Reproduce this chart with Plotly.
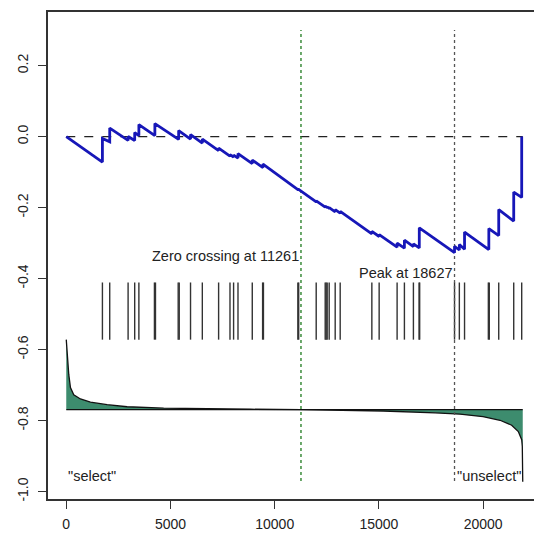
import plotly.graph_objects as go

N_GENES = 21900
ZERO_CROSS = 11261
PEAK = 18627

# running enrichment score: value just before and just after each hit
hit_ranks = [1735, 2085, 2967, 3283, 3484, 4251, 5392, 5962, 6528, 7309, 7855, 8028,
             8239, 8924, 9437, 11129, 11991, 12423, 12518, 12614, 12902, 13142, 14661,
             15011, 15873, 16223, 16655, 16937, 18627, 18859, 19108, 20273, 20748,
             21467, 21850]
es_before = [-0.0718, -0.0150, -0.0110, -0.0113, 0.0028, 0.0028, -0.0080, -0.0070,
             -0.0183, -0.0394, -0.0549, -0.0577, -0.0606, -0.0760, -0.0873, -0.1500,
             -0.1837, -0.1989, -0.1999, -0.2020, -0.2119, -0.2159, -0.2739, -0.2815,
             -0.3117, -0.3145, -0.3099, -0.3137, -0.3270, -0.3195, -0.3172, -0.3183,
             -0.2789, -0.2380, -0.1715]
es_after = [-0.0056, 0.0239, 0.0000, 0.0113, 0.0338, 0.0366, 0.0169, 0.0056,
            -0.0070, -0.0324, -0.0507, -0.0521, -0.0479, -0.0662, -0.0775, -0.1480,
            -0.1810, -0.1960, -0.1980, -0.2000, -0.2060, -0.2110, -0.2670, -0.2760,
            -0.3000, -0.2920, -0.3020, -0.2570, -0.3090, -0.3042, -0.2690, -0.2592,
            -0.2056, -0.1563, 0.0000]

# barcode of gene-set members (thick bars = several neighbouring hits)
barcode_ranks = [1735, 2085, 2967, 3283, 3484, 4230, 4280, 5370, 5420, 5962, 6528,
                 7309, 7855, 8028, 8239, 8924, 9420, 9460, 11110, 11150, 11991, 12423,
                 12470, 12518, 12614, 12902, 13142, 14661, 15011, 15873, 16223, 16655,
                 16925, 16955, 18627, 18859, 19108, 20250, 20295, 20748, 21467, 21850]
bar_bottom = -0.572
bar_top = -0.411

# ranked metric drawn in the lower panel
metric_ranks = [0, 81, 120, 201, 359, 680, 1160, 1960, 2919, 4673, 6432, 8828, 11261,
                14100, 15202, 17695, 18893, 19995, 20810, 21370, 21687, 21850, 21879, 21900]
metric_vals = [-0.572, -0.642, -0.670, -0.707, -0.727, -0.739, -0.748, -0.755, -0.761,
               -0.765, -0.767, -0.768, -0.769, -0.771, -0.773, -0.778, -0.782, -0.789,
               -0.799, -0.813, -0.831, -0.854, -0.873, -0.972]
metric_base = -0.769

vline_bottom = -0.970
vline_top = 0.300

x_ticks = [0, 5000, 10000, 15000, 20000]
y_ticks = [0.2, 0.0, -0.2, -0.4, -0.6, -0.8, -1.0]
y_labels = ["0.2", "0.0", "-0.2", "-0.4", "-0.6", "-0.8", "-1.0"]

FONT = "Arial, Liberation Sans, sans-serif"

fig = go.Figure()

# ranked metric filled against its baseline
fig.add_trace(go.Scatter(
    x=metric_ranks + [metric_ranks[-1], metric_ranks[0]],
    y=metric_vals + [metric_base, metric_base],
    mode="lines", fill="toself", fillcolor="#3D8C6E",
    line=dict(color="rgba(0,0,0,0)", width=0), hoverinfo="skip", showlegend=False))
fig.add_trace(go.Scatter(
    x=[metric_ranks[0], metric_ranks[-1]], y=[metric_base, metric_base],
    mode="lines", line=dict(color="#111111", width=1.3), showlegend=False))
fig.add_trace(go.Scatter(
    x=metric_ranks, y=metric_vals, mode="lines",
    line=dict(color="#111111", width=1.3), showlegend=False))

# barcode
bx, by = [], []
for r in barcode_ranks:
    bx += [r, r, None]
    by += [bar_bottom, bar_top, None]
fig.add_trace(go.Scatter(x=bx, y=by, mode="lines",
                         line=dict(color="#333333", width=1.4), showlegend=False))

# zero line
fig.add_trace(go.Scatter(x=[0, N_GENES], y=[0, 0], mode="lines",
                         line=dict(color="#222222", width=1.2, dash="dash"),
                         showlegend=False))

# vertical markers
fig.add_trace(go.Scatter(x=[ZERO_CROSS, ZERO_CROSS], y=[vline_bottom, vline_top],
                         mode="lines", line=dict(color="#1E7A1E", width=1.3, dash="dot"),
                         showlegend=False))
fig.add_trace(go.Scatter(x=[PEAK, PEAK], y=[vline_bottom, vline_top],
                         mode="lines", line=dict(color="#555555", width=1.3, dash="dot"),
                         showlegend=False))

# running enrichment score
cx, cy = [0], [0.0]
for r, b, a in zip(hit_ranks, es_before, es_after):
    cx += [r, r]
    cy += [b, a]
fig.add_trace(go.Scatter(x=cx, y=cy, mode="lines",
                         line=dict(color="#1717B8", width=2.8), showlegend=False))

ann_font = dict(family=FONT, size=14.5, color="#222222")
fig.add_annotation(x=ZERO_CROSS, y=-0.335, text="Zero crossing at 11261",
                   xanchor="right", yanchor="middle", showarrow=False, font=ann_font)
fig.add_annotation(x=PEAK, y=-0.383, text="Peak at 18627",
                   xanchor="right", yanchor="middle", showarrow=False, font=ann_font)
fig.add_annotation(x=0, y=-0.955, text='"select"', xanchor="left", yanchor="middle",
                   showarrow=False, font=ann_font)
fig.add_annotation(x=N_GENES, y=-0.955, text='"unselect"', xanchor="right",
                   yanchor="middle", showarrow=False, font=ann_font)

span_x = N_GENES
fig.update_layout(
    width=542, height=535,
    margin=dict(l=40, r=9, t=4, b=44, autoexpand=False),
    paper_bgcolor="white", plot_bgcolor="white",
    font=dict(family=FONT, size=14, color="#222222"),
    xaxis=dict(range=[-0.04 * span_x, 1.04 * span_x], tickvals=x_ticks,
               ticktext=[str(v) for v in x_ticks], ticks="outside", ticklen=8,
               tickcolor="#333333", showline=True, mirror=True, linecolor="#333333",
               linewidth=1.5, showgrid=False, zeroline=False, ticklabelstandoff=3,
               automargin=False),
    yaxis=dict(range=[-1.0208, 0.3508], tickvals=y_ticks, ticktext=y_labels,
               tickangle=-90, ticks="outside", ticklen=8, tickcolor="#333333",
               showline=True, mirror=True, linecolor="#333333", linewidth=1.5,
               showgrid=False, zeroline=False, ticklabelstandoff=5,
               automargin=False),
)

fig.write_html("out.html")
